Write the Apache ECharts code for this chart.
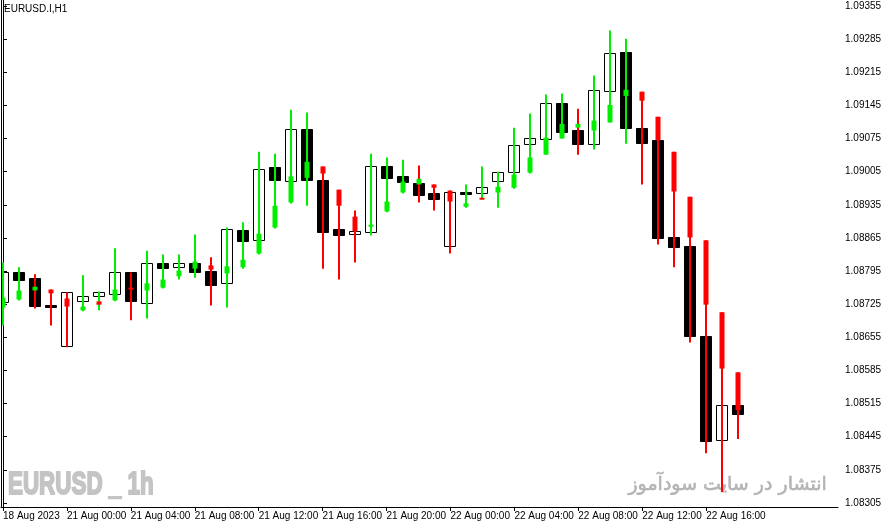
<!DOCTYPE html>
<html><head><meta charset="utf-8">
<script src="https://cdn.jsdelivr.net/npm/echarts@6/dist/echarts.min.js"></script>
<style>html,body{margin:0;padding:0;background:#fff}#c{width:887px;height:527px}</style>
</head><body><div id="c"></div>
<script>
// H1 candle bodies (open, close)
const boxOpen  = [1.08731,1.08794,1.08781,1.08724,1.08636,1.08733,1.08741,1.08746,1.08792,1.08729,1.08813,1.08803,1.08813,1.08796,1.08769,1.08881,1.08862,1.09014,1.08986,1.09096,1.08988,1.08883,1.08872,1.08876,1.09016,1.08995,1.08982,1.08959,1.08849,1.08963,1.08961,1.08986,1.09005,1.09064,1.09075,1.09151,1.09094,1.09064,1.09176,1.09258,1.09098,1.09071,1.08868,1.08849,1.08657,1.08438,1.08513];
const boxClose = [1.08794,1.08777,1.08722,1.08723,1.08750,1.08743,1.08750,1.08792,1.08731,1.08813,1.08803,1.08811,1.08794,1.08767,1.08883,1.08857,1.09011,1.08986,1.09096,1.08988,1.08879,1.08870,1.08879,1.09016,1.08990,1.08982,1.08957,1.08946,1.08963,1.08961,1.08973,1.09005,1.09062,1.09077,1.09151,1.09090,1.09064,1.09178,1.09256,1.09098,1.09066,1.08864,1.08847,1.08659,1.08435,1.08511,1.08495];
// Heiken Ashi candles
const haOpen  = [1.08718,1.08735,1.08754,1.08756,1.08737,1.08712,1.08731,1.08733,1.08760,1.08754,1.08760,1.08784,1.08800,1.08807,1.08790,1.08803,1.08832,1.08887,1.08940,1.08992,1.09016,1.08967,1.08910,1.08889,1.08921,1.08961,1.08978,1.08978,1.08965,1.08931,1.08950,1.08961,1.08971,1.09003,1.09041,1.09075,1.09098,1.09092,1.09109,1.09165,1.09174,1.09121,1.09047,1.08952,1.08860,1.08708,1.08581];
const haClose = [1.08739,1.08754,1.08762,1.08748,1.08720,1.08720,1.08724,1.08756,1.08758,1.08769,1.08777,1.08796,1.08815,1.08798,1.08805,1.08819,1.08874,1.08933,1.08995,1.09026,1.09001,1.08933,1.08879,1.08893,1.08942,1.08984,1.08990,1.08971,1.08942,1.08938,1.08948,1.08973,1.08999,1.09035,1.09077,1.09106,1.09106,1.09113,1.09146,1.09178,1.09155,1.09071,1.08963,1.08866,1.08724,1.08589,1.08501];
const haHigh  = [1.08813,1.08803,1.08788,1.08756,1.08750,1.08786,1.08752,1.08843,1.08792,1.08838,1.08830,1.08830,1.08872,1.08824,1.08887,1.08898,1.09047,1.09043,1.09136,1.09130,1.09016,1.08967,1.08923,1.09043,1.09035,1.09030,1.09018,1.08978,1.08965,1.08978,1.09016,1.09005,1.09098,1.09128,1.09168,1.09170,1.09138,1.09208,1.09303,1.09286,1.09174,1.09121,1.09047,1.08952,1.08860,1.08708,1.08581];
const haLow   = [1.08680,1.08733,1.08716,1.08680,1.08634,1.08710,1.08712,1.08731,1.08691,1.08695,1.08758,1.08777,1.08781,1.08722,1.08718,1.08800,1.08830,1.08885,1.08938,1.08933,1.08800,1.08777,1.08813,1.08870,1.08919,1.08959,1.08940,1.08923,1.08832,1.08929,1.08946,1.08929,1.08969,1.09001,1.09041,1.09075,1.09041,1.09052,1.09109,1.09064,1.08978,1.08851,1.08803,1.08644,1.08410,1.08328,1.08440];
const haWickUp = [1,1,0,0,0,1,1,1,0,1,1,1,1,0,1,1,1,1,1,1,0,0,0,1,1,1,0,0,0,1,1,1,1,1,1,1,0,1,1,1,0,0,0,0,0,0,0];
// time axis labels every 4 bars
const timeLabels = ["18 Aug 2023","21 Aug 00:00","21 Aug 04:00","21 Aug 08:00","21 Aug 12:00","21 Aug 16:00","21 Aug 20:00","22 Aug 00:00","22 Aug 04:00","22 Aug 08:00","22 Aug 12:00","22 Aug 16:00"];
const priceTicks = [1.09355,1.09285,1.09215,1.09145,1.09075,1.09005,1.08935,1.08865,1.08795,1.08725,1.08655,1.08585,1.08515,1.08445,1.08375,1.08305];

const boxData = boxOpen.map((o,i)=>[i,o,boxClose[i]]);
const haData = haOpen.map((o,i)=>[i,o,haClose[i],haHigh[i],haLow[i],haWickUp[i]]);
const labelIdx = timeLabels.map((_,k)=>k*4);
const font = 'Liberation Sans';

const chart = echarts.init(document.getElementById('c'));
chart.setOption({
  animation:false,
  backgroundColor:'#fff',
  grid:{left:0,right:49,top:0,bottom:20},
  xAxis:{type:'value',min:-0.125,max:52.25,splitLine:{show:false},
    axisLine:{show:true,onZero:false,lineStyle:{color:'#000',width:1}},
    axisTick:{show:true,customValues:labelIdx,length:4,lineStyle:{color:'#000'}},
    axisLabel:{customValues:labelIdx,formatter:v=>timeLabels[Math.round(v/4)],align:'left',margin:4,
      fontFamily:font,fontSize:10,color:'#000'}},
  yAxis:{type:'value',position:'right',min:1.082965,max:1.093677,scale:true,splitLine:{show:false},
    axisLine:{show:true,lineStyle:{color:'#000',width:1}},
    axisTick:{show:true,customValues:priceTicks,length:4,lineStyle:{color:'#000'}},
    axisLabel:{customValues:priceTicks,formatter:v=>v.toFixed(5),margin:7,fontFamily:font,fontSize:10,color:'#000'}},
  graphic:[
    {type:'line',shape:{x1:1.5,y1:0,x2:1.5,y2:507},style:{stroke:'#000',lineWidth:1},z:10},
    {type:'text',left:4,top:4,style:{text:'EURUSD.I,H1',font:'10px '+font,fill:'#000'}},
    {type:'text',x:8,y:469,scaleX:0.7,style:{text:'EURUSD _ 1h',fontFamily:font,fontWeight:'bold',fontSize:32,fill:'#c4c4c4',stroke:'#c4c4c4',lineWidth:2}},
    {type:'text',right:60,top:475,style:{text:'انتشار در سایت سودآموز',fontFamily:'DejaVu Sans',fontSize:19,fill:'#b4b4b4',stroke:'#b4b4b4',lineWidth:0.6}}
  ],
  series:[
    {type:'custom',clip:true,data:boxData,encode:{x:0,y:[1,2]},
      renderItem:(p,api)=>{
        const i=api.value(0),o=api.value(1),c=api.value(2);
        const a=api.coord([i,o]),b=api.coord([i,c]);
        const top=Math.min(a[1],b[1]);const h=Math.max(Math.abs(a[1]-b[1]),2);
        const up=c>o;
        return {type:'rect',shape:{x:Math.round(a[0])-5.5,y:Math.round(top)+0.5,width:11,height:Math.round(h)},
          style:{fill:up?'#fff':'#000',stroke:'#000',lineWidth:1}};
      }},
    {type:'custom',clip:true,data:haData,encode:{x:0,y:[1,2,3,4]},
      renderItem:(p,api)=>{
        const i=api.value(0),o=api.value(1),c=api.value(2),h=api.value(3),l=api.value(4),wu=api.value(5);
        const po=api.coord([i,o]),pc=api.coord([i,c]),ph=api.coord([i,h]),pl=api.coord([i,l]);
        const x=Math.round(po[0]);
        const G='#00ee00',R='#ff0000';
        const top=Math.min(po[1],pc[1]);const hh=Math.max(Math.abs(po[1]-pc[1]),2);
        return {type:'group',children:[
          {type:'line',shape:{x1:x,y1:ph[1],x2:x,y2:pl[1]},style:{stroke:wu?G:R,lineWidth:2}},
          {type:'rect',shape:{x:x-2.5,y:top,width:5,height:hh},style:{fill:c>=o?G:R}}
        ]};
      }}
  ]
});
</script></body></html>
